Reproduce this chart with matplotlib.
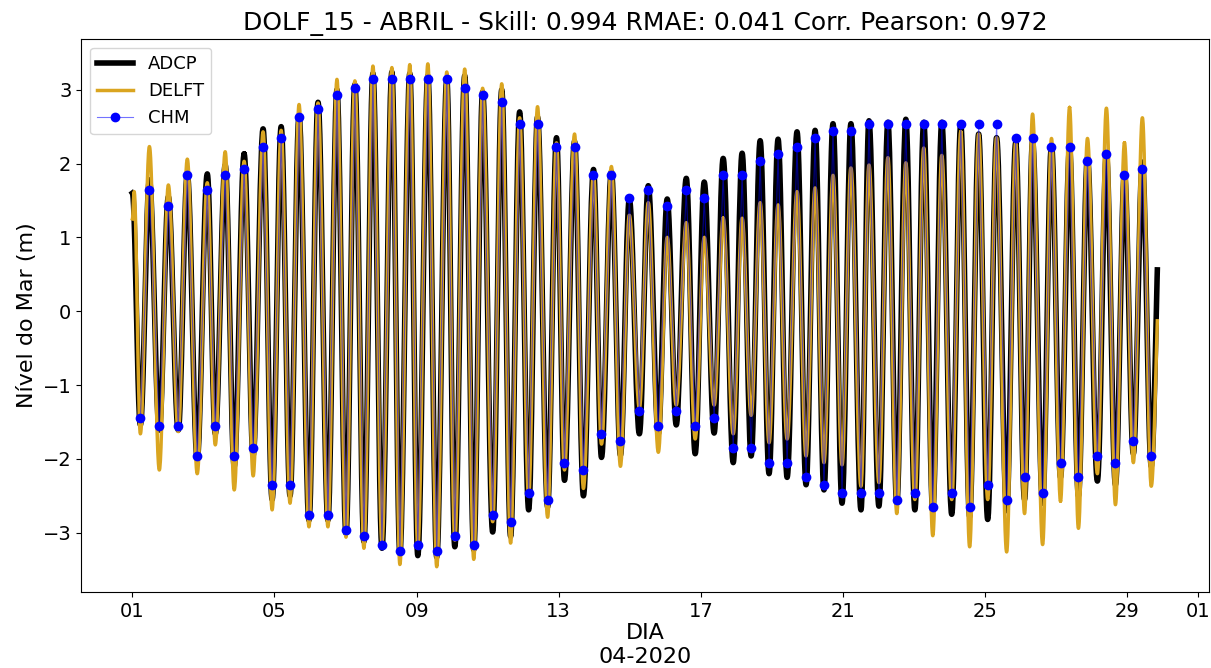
import numpy as np
import matplotlib
matplotlib.use("Agg")
import matplotlib.pyplot as plt
import matplotlib.dates as mdates

# Tide extremes, alternating low/high, starting with a low.
# Times in hours after 2020-04-01 00:00.
ext_hours = [5.4, 11.5, 18.2, 24.3, 31.0, 37.1, 43.8, 50.6, 56.0, 62.7,
             68.8, 75.5, 81.6, 88.3, 94.4, 100.5, 106.5, 112.6, 119.3, 125.4,
             132.1, 138.2, 144.3, 150.3, 156.4, 162.5, 168.6, 175.3, 180.7, 187.4,
             192.8, 199.6, 205.6, 212.4, 217.8, 224.5, 230.6, 236.6, 243.4, 249.5,
             255.5, 261.6, 267.7, 273.7, 280.5, 286.5, 291.9, 298.7, 304.7, 311.5,
             316.9, 323.6, 329.7, 335.7, 342.5, 348.5, 355.3, 361.3, 367.4, 374.2,
             380.2, 386.3, 393.0, 399.1, 405.9, 411.9, 418.0, 424.1, 430.1, 436.2,
             442.3, 449.0, 455.1, 461.2, 467.2, 473.3, 479.4, 485.4, 492.2, 497.6,
             504.3, 510.4, 516.4, 522.5, 528.6, 534.6, 540.7, 546.8, 553.5, 559.6,
             565.6, 571.7, 577.8, 583.8, 590.6, 596.7, 602.7, 608.1, 614.9, 620.9,
             627.0, 633.1, 639.1, 645.2, 651.9, 658.0, 664.1, 670.2, 676.2, 682.3,
             688.3]
end_hour = 692.4

chm_low = [-1.45, -1.56, -1.56, -1.96, -1.56, -1.96, -1.85, -2.36, -2.36, -2.76,
           -2.76, -2.96, -3.05, -3.16, -3.25, -3.16, -3.25, -3.05, -3.16, -2.76,
           -2.86, -2.46, -2.56, -2.06, -2.15, -1.66, -1.76, -1.35, -1.56, -1.35,
           -1.56, -1.45, -1.85, -1.85, -2.06, -2.06, -2.25, -2.36, -2.46, -2.46,
           -2.46, -2.56, -2.46, -2.65, -2.46, -2.65, -2.36, -2.56, -2.25, -2.46,
           -2.06, -2.25, -1.96, -2.06, -1.76, -1.96]
chm_high = [1.64, 1.43, 1.84, 1.64, 1.84, 1.93, 2.23, 2.34, 2.63, 2.74,
            2.93, 3.03, 3.14, 3.14, 3.14, 3.14, 3.14, 3.03, 2.93, 2.83,
            2.53, 2.53, 2.23, 2.23, 1.84, 1.84, 1.53, 1.64, 1.43, 1.64,
            1.53, 1.84, 1.84, 2.03, 2.13, 2.23, 2.34, 2.44, 2.44, 2.54,
            2.54, 2.54, 2.54, 2.54, 2.54, 2.54, 2.54, 2.34, 2.34, 2.23,
            2.23, 2.03, 2.13, 1.84, 1.93]

adcp_low = [-1.54, -1.61, -1.61, -2.00, -1.66, -2.10, -1.95, -2.55, -2.50, -2.83,
            -2.83, -3.01, -3.12, -3.21, -3.28, -3.31, -3.33, -3.19, -3.23, -2.99,
            -3.05, -2.69, -2.65, -2.29, -2.50, -1.98, -1.95, -1.66, -1.66, -1.54,
            -1.93, -1.65, -2.05, -1.96, -2.20, -2.25, -2.35, -2.42, -2.60, -2.69,
            -2.64, -2.60, -2.69, -2.70, -2.75, -2.78, -2.82, -2.70, -2.55, -2.60,
            -2.25, -2.50, -2.30, -2.35, -1.93, -2.10]
adcp_high = [1.78, 1.55, 1.86, 1.86, 1.98, 2.13, 2.47, 2.50, 2.65, 2.83,
             3.00, 3.07, 3.22, 3.24, 3.22, 3.19, 3.14, 3.19, 2.97, 3.00,
             2.70, 2.63, 2.35, 2.30, 1.92, 1.89, 1.52, 1.70, 1.52, 1.80,
             1.75, 2.07, 2.14, 2.31, 2.33, 2.43, 2.45, 2.54, 2.54, 2.58,
             2.56, 2.60, 2.56, 2.56, 2.53, 2.40, 2.35, 2.28, 2.30, 2.25,
             2.20, 2.08, 2.13, 1.87, 2.02]
adcp_start, adcp_end = 1.60, 0.56

delft_low = [-1.66, -2.15, -1.63, -2.20, -1.81, -2.42, -2.23, -2.69, -2.60, -2.92,
             -2.92, -3.06, -3.21, -3.14, -3.43, -3.21, -3.46, -3.10, -3.36, -2.85,
             -3.14, -2.50, -2.79, -2.15, -2.40, -1.80, -2.10, -1.31, -1.91, -1.27,
             -1.73, -1.27, -1.66, -1.41, -1.78, -1.73, -1.96, -2.05, -2.08, -2.37,
             -2.32, -2.74, -2.55, -3.04, -2.55, -3.19, -2.55, -3.26, -2.74, -3.16,
             -2.57, -2.94, -2.20, -2.62, -2.05, -2.37]
delft_high = [2.23, 1.71, 2.06, 1.74, 2.16, 2.03, 2.43, 2.45, 2.80, 2.82,
              3.14, 3.12, 3.32, 3.30, 3.34, 3.35, 3.24, 3.28, 3.02, 3.08,
              2.62, 2.77, 2.28, 2.40, 1.86, 1.96, 1.30, 1.47, 1.00, 1.20,
              1.00, 1.26, 1.26, 1.47, 1.44, 1.62, 1.67, 1.84, 1.94, 1.98,
              2.08, 2.01, 2.21, 2.11, 2.43, 2.40, 2.35, 2.28, 2.67, 2.34,
              2.76, 2.34, 2.75, 2.28, 2.62]
delft_start, delft_first_peak, delft_end = 1.25, 1.62, -0.13


def interleave(lows, highs):
    out = []
    for i, lo in enumerate(lows):
        out.append(lo)
        if i < len(highs):
            out.append(highs[i])
    return out


def tide_curve(t_ext, v_ext, t_end, v_end, step=0.1):
    # half-cosine shape between consecutive extremes
    ts, vs = [], []
    for i in range(len(t_ext) - 1):
        t0, t1 = t_ext[i], t_ext[i + 1]
        s = np.arange(0, 1, step / (t1 - t0))
        ts.append(t0 + s * (t1 - t0))
        vs.append(v_ext[i] + (v_ext[i + 1] - v_ext[i]) * (1 - np.cos(np.pi * s)) / 2)
    # last partial rise up to the end of the record
    t0 = t_ext[-1]
    half = t_ext[-1] - t_ext[-2]
    frac = (t_end - t0) / half
    s = np.linspace(0, 1, 30)
    shape = (1 - np.cos(np.pi * frac * s)) / (1 - np.cos(np.pi * frac))
    ts.append(t0 + s * (t_end - t0))
    vs.append(v_ext[-1] + (v_end - v_ext[-1]) * shape)
    return np.concatenate(ts), np.concatenate(vs)


base = np.datetime64("2020-04-01T00:00")


def to_dates(hours):
    return base + (np.asarray(hours) * 60).astype("timedelta64[m]")


ext_adcp = [adcp_start] + interleave(adcp_low, adcp_high)
t_adcp = [0.0] + ext_hours
ta, va = tide_curve(t_adcp, ext_adcp, end_hour, adcp_end)

ext_delft = [delft_start, delft_first_peak] + interleave(delft_low, delft_high)
t_delft = [0.0, 1.2] + ext_hours
td, vd = tide_curve(t_delft, ext_delft, end_hour, delft_end)

chm_vals = interleave(chm_low, chm_high)

fig = plt.figure(figsize=(12.11, 6.68), dpi=100)
ax = fig.add_axes([0.067, 0.114, 0.931, 0.828])

ax.plot(to_dates(ta), va, color="black", lw=4, label="ADCP", zorder=2)
ax.plot(to_dates(td), vd, color="goldenrod", lw=2.5, label="DELFT", zorder=3)
ax.plot(to_dates(ext_hours), chm_vals, "o-", color=(0, 0, 1, 0.55), lw=0.8, ms=6,
        mfc="blue", mec="blue", label="CHM", zorder=4)

ax.xaxis.set_major_locator(mdates.DayLocator(bymonthday=[1, 5, 9, 13, 17, 21, 25, 29]))
ax.xaxis.set_major_formatter(mdates.DateFormatter("%d"))
ax.set_yticks([-3, -2, -1, 0, 1, 2, 3])
ax.tick_params(labelsize=14)

ax.set_title("DOLF_15 - ABRIL - Skill: 0.994 RMAE: 0.041 Corr. Pearson: 0.972", fontsize=18)
ax.set_xlabel("DIA\n04-2020", fontsize=16, labelpad=2)
ax.set_ylabel("Nível do Mar (m)", fontsize=16)
ax.legend(loc="upper left", fontsize=13)

fig.savefig("out.png", dpi=100)
